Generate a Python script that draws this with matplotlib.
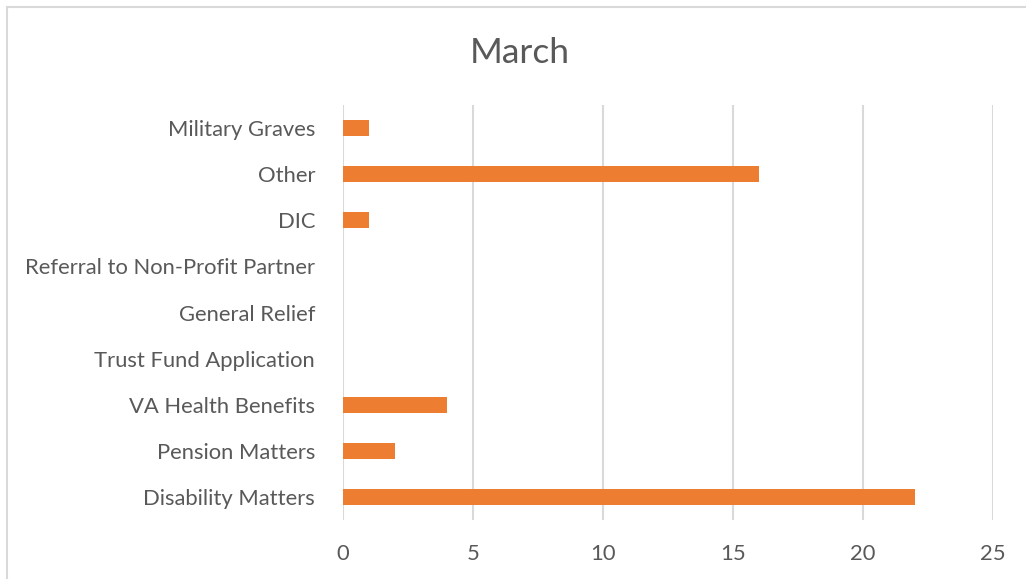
import matplotlib.pyplot as plt
from matplotlib.patches import Rectangle

categories = ['Disability Matters', 'Pension Matters', 'VA Health Benefits',
              'Trust Fund Application', 'General Relief',
              'Referral to Non-Profit Partner', 'DIC', 'Other', 'Military Graves']
values = [22, 2, 4, 0, 0, 0, 1, 16, 1]
xticks = [0, 5, 10, 15, 20, 25]

W, H = 1026, 579
text_color = '#595959'
grid_color = '#d9d9d9'
bar_color = '#ED7D31'

plt.rcParams['font.family'] = ['Lato', 'DejaVu Sans']

fig = plt.figure(figsize=(W / 100, H / 100), dpi=100)

# chart border, runs off the right and bottom edges
fig.patches.append(Rectangle((7 / W, -0.1), 1.2, (H - 7) / H + 0.1,
                             transform=fig.transFigure, fill=False,
                             edgecolor=grid_color, linewidth=1.5))

ax = fig.add_axes([343 / W, (H - 520) / H, 650 / W, 415 / H])
ax.barh(range(len(categories)), values, height=0.35, color=bar_color, zorder=3)

ax.set_xlim(0, 25)
ax.set_ylim(-0.5, len(categories) - 0.5)
ax.set_xticks(xticks)
ax.set_yticks(range(len(categories)))
ax.set_yticklabels(categories)
ax.tick_params(axis='both', length=0, labelsize=15.8, colors=text_color)
ax.tick_params(axis='y', pad=20)
ax.tick_params(axis='x', pad=17.5)
ax.grid(axis='x', color=grid_color, linewidth=1.5, zorder=0)
for s in ax.spines.values():
    s.set_visible(False)

fig.text(520 / W, 1 - 53 / H, 'March', ha='center', va='center',
         fontsize=25.5, color=text_color)

fig.savefig('out.png', dpi=100)
